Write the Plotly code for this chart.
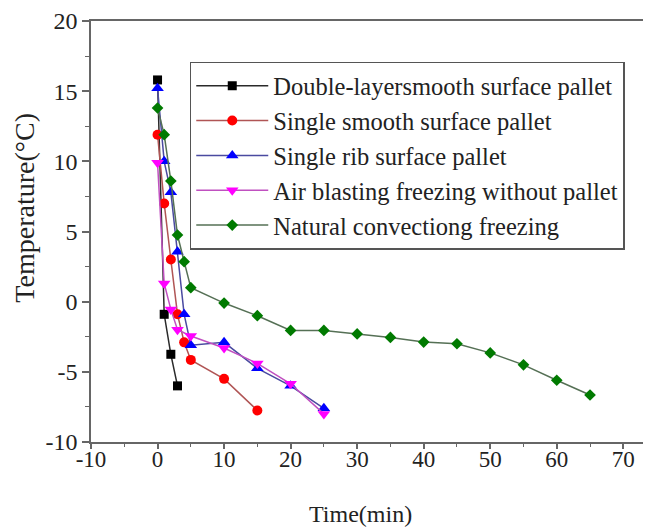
import plotly.graph_objects as go

# Data
names = [
    "Double-layersmooth surface pallet",
    "Single smooth surface pallet",
    "Single rib surface pallet",
    "Air blasting freezing without pallet",
    "Natural convectiong freezing",
]
x_double = [0, 1, 2, 3]
y_double = [15.8, -0.9, -3.75, -6.0]

x_smooth = [0, 1, 2, 3, 4, 5, 10, 15]
y_smooth = [11.9, 7.0, 3.0, -0.9, -2.9, -4.15, -5.5, -7.75]

x_rib = [0, 1, 2, 3, 4, 5, 10, 15, 20, 25]
y_rib = [15.2, 10.0, 7.8, 3.55, -0.9, -3.1, -2.9, -4.75, -6.0, -7.6]

x_air = [0, 1, 2, 3, 5, 10, 15, 20, 25]
y_air = [9.9, 1.3, -0.55, -2.0, -2.45, -3.3, -4.4, -5.85, -8.0]

x_nat = [0, 1, 2, 3, 4, 5, 10, 15, 20, 25, 30, 35, 40, 45, 50, 55, 60, 65]
y_nat = [13.8, 11.9, 8.6, 4.75, 2.85, 1.0, -0.1, -1.0, -2.05, -2.05, -2.3,
         -2.55, -2.88, -3.0, -3.65, -4.5, -5.6, -6.65]

x_ticks = [-10, 0, 10, 20, 30, 40, 50, 60, 70]
x_ticktext = ["-10", "0", "10", "20", "30", "40", "50", "60", "70"]
y_ticks = [-10, -5, 0, 5, 10, 15, 20]
y_ticktext = ["-10", "-5", "0", "5", "10", "15", "20"]
x_title = "Time(min)"
y_title = "Temperature(°C)"

xs = [x_double, x_smooth, x_rib, x_air, x_nat]
ys = [y_double, y_smooth, y_rib, y_air, y_nat]
marker_colors = ["#000000", "#ff0000", "#0000ff", "#ff00ff", "#007a00"]
line_colors = ["#2a2a2a", "#b05555", "#4a4aa0", "#c050c0", "#557055"]
symbols = ["square", "circle", "triangle-up", "triangle-down", "diamond"]
sizes = [9, 10, 11, 11, 9]

FONT = "Liberation Serif, Times New Roman, serif"
TXT = "#222222"

fig = go.Figure()
for n, x, y, mc, lc, s, sz in zip(names, xs, ys, marker_colors, line_colors, symbols, sizes):
    fig.add_trace(go.Scatter(
        x=x, y=y, name=n, mode="lines+markers",
        line=dict(color=lc, width=1.5),
        marker=dict(symbol=s, size=sz, color=mc, line=dict(width=0)),
    ))

# page body has an 8px margin; the figure is placed at (8, 8)
OFF = 8
W, H = 651 - OFF, 529 - OFF
PL, PT, PB, PR = 91.3, 21.3, 441.7, 651.0   # plot area in page pixels
L, T, B = PL - OFF, PT - OFF, H - (PB - OFF)
xmax = -10 + (PR - PL) / 6.65


def px(xp):
    return (xp - PL) / (PR - PL)


def py(yp):
    return (PB - yp) / (PB - PT)


fig.update_layout(
    width=W, height=H,
    margin=dict(l=L, r=0, t=T, b=B, pad=0, autoexpand=False),
    plot_bgcolor="white", paper_bgcolor="white",
    font=dict(family=FONT, size=23, color=TXT),
    showlegend=True,
    legend=dict(
        x=px(190), y=py(62),
        xanchor="left", yanchor="top",
        bgcolor="white", bordercolor="#555555", borderwidth=1.5,
        font=dict(family=FONT, size=24.5, color=TXT),
        itemwidth=72, tracegroupgap=0,
    ),
    xaxis=dict(
        range=[-10, xmax], tickvals=x_ticks, ticktext=x_ticktext,
        showgrid=False, zeroline=False, automargin=False,
        showline=True, linecolor="#666666", linewidth=1.5, mirror=True,
        ticks="outside", ticklen=5, tickcolor="#666666", tickwidth=1.5,
        ticklabelstandoff=-9,
        minor=dict(dtick=5, ticks="outside", ticklen=3, tickcolor="#666666", tickwidth=1),
        tickfont=dict(family=FONT, size=23, color=TXT),
    ),
    yaxis=dict(
        range=[-10, 20], tickvals=y_ticks, ticktext=y_ticktext,
        showgrid=False, zeroline=False, automargin=False,
        showline=True, linecolor="#666666", linewidth=1.5, mirror=False,
        ticks="outside", ticklen=7, tickcolor="#666666", tickwidth=1.5,
        minor=dict(dtick=2.5, ticks="outside", ticklen=4, tickcolor="#666666", tickwidth=1),
        tickfont=dict(family=FONT, size=24, color=TXT),
    ),
    annotations=[
        dict(text=x_title, xref="paper", yref="paper", x=px(361), y=py(514),
             xanchor="center", yanchor="middle", showarrow=False,
             font=dict(family=FONT, size=24, color=TXT)),
        dict(text=y_title, xref="paper", yref="paper", x=px(25), y=py(208),
             xanchor="center", yanchor="middle", showarrow=False, textangle=-90,
             font=dict(family=FONT, size=28, color=TXT)),
    ],
)

fig.write_html("out.html")
